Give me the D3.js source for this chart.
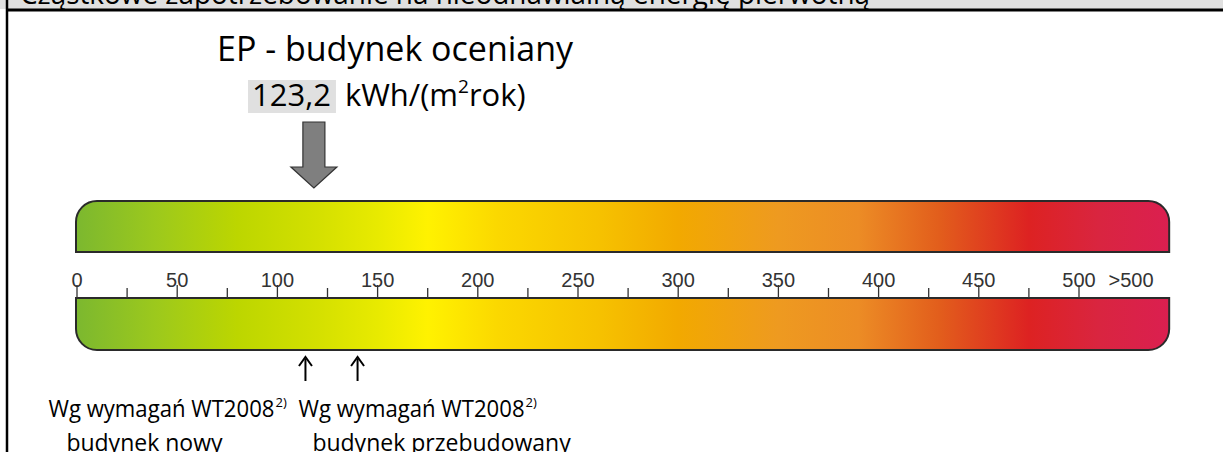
<!DOCTYPE html>
<html>
<head>
<meta charset="utf-8">
<script src="https://cdn.jsdelivr.net/npm/d3@7"></script>
<style>
  body { margin: 0; background: #fff; }
  svg { display: block; }
</style>
</head>
<body>
<div id="chart"></div>
<script>
// dane skali
const tickValues = [0, 50, 100, 150, 200, 250, 300, 350, 400, 450, 500];
const minorTicks = [25, 75, 125, 175, 225, 275, 325, 375, 425, 475];
const overLabel = ">500";
const overLabelValue = 526;
const scaleMax = 545;

const gradValues = [0, 40, 80, 120, 150, 175, 210, 260, 300, 350, 390, 430, 475, 510, 545];
const gradColors = ["#7cb82f", "#9dc91c", "#bcd600", "#d4e000", "#e8ea00", "#fff200", "#fbd800",
  "#f6c200", "#f2a900", "#ee9a20", "#ec8c25", "#e25e1c", "#dd2222", "#d92540", "#db1f50"];

const epValue = 123.2;
const epLabel = "123,2";
const refValues = [114, 140];
const refLines1 = ["Wg wymagań WT2008", "Wg wymagań WT2008"];
const refLines2 = ["budynek nowy", "budynek przebudowany"];

const title = "Cząstkowe zapotrzebowanie na nieodnawialną energię pierwotną";

const W = 1223, H = 452;
const textFont = "'Open Sans', 'Noto Sans', sans-serif";

const svg = d3.select("#chart").append("svg")
  .attr("width", W).attr("height", H);

// x scale
const x = d3.scaleLinear().domain([0, 500]).range([77, 1079]);

// ramka i nagłówek
svg.append("rect").attr("x", 0).attr("y", 0).attr("width", W).attr("height", 9).attr("fill", "#e0e0e0");
svg.append("text").attr("x", 20).attr("y", 4)
  .attr("textLength", 850).attr("lengthAdjust", "spacingAndGlyphs")
  .style("font-family", textFont).style("font-size", "30px").attr("fill", "#000")
  .text(title);
svg.append("line").attr("x1", 6).attr("x2", W).attr("y1", 10).attr("y2", 10)
  .attr("stroke", "#000").attr("stroke-width", 3);
svg.append("line").attr("x1", 7).attr("x2", 7).attr("y1", 0).attr("y2", H)
  .attr("stroke", "#000").attr("stroke-width", 2.5);

// gradient
const defs = svg.append("defs");
const grad = defs.append("linearGradient").attr("id", "scaleGrad")
  .attr("gradientUnits", "userSpaceOnUse")
  .attr("x1", x(0)).attr("x2", x(scaleMax)).attr("y1", 0).attr("y2", 0);
grad.selectAll("stop").data(gradValues).join("stop")
  .attr("offset", d => d / scaleMax)
  .attr("stop-color", (d, i) => gradColors[i]);

const x0 = x(0) - 1, x1 = x(scaleMax);
const r = 21;
const upTop = 201, upBot = 252, axisY = 298, lowBot = 350;

// górny pasek (zaokrąglone górne rogi)
const up = d3.path();
up.moveTo(x0, upBot);
up.lineTo(x0, upTop + r);
up.arcTo(x0, upTop, x0 + r, upTop, r);
up.lineTo(x1 - r, upTop);
up.arcTo(x1, upTop, x1, upTop + r, r);
up.lineTo(x1, upBot);
up.closePath();
svg.append("path").attr("d", up.toString())
  .attr("fill", "url(#scaleGrad)").attr("stroke", "#2a2a2a").attr("stroke-width", 2);

// dolny pasek (zaokrąglone dolne rogi)
const lo = d3.path();
lo.moveTo(x0, axisY);
lo.lineTo(x1, axisY);
lo.lineTo(x1, lowBot - r);
lo.arcTo(x1, lowBot, x1 - r, lowBot, r);
lo.lineTo(x0 + r, lowBot);
lo.arcTo(x0, lowBot, x0, lowBot - r, r);
lo.closePath();
svg.append("path").attr("d", lo.toString())
  .attr("fill", "url(#scaleGrad)").attr("stroke", "#2a2a2a").attr("stroke-width", 2);

// oś
const axisFont = "'Liberation Sans', Arial, sans-serif";
svg.selectAll(".tick-major").data(tickValues).join("line")
  .attr("x1", d => x(d)).attr("x2", d => x(d))
  .attr("y1", axisY).attr("y2", axisY - 13)
  .attr("stroke", "#333").attr("stroke-width", 1.3);
svg.selectAll(".tick-minor").data(minorTicks).join("line")
  .attr("x1", d => x(d)).attr("x2", d => x(d))
  .attr("y1", axisY).attr("y2", axisY - 10)
  .attr("stroke", "#333").attr("stroke-width", 1.3);
svg.selectAll(".tick-label").data(tickValues).join("text")
  .attr("x", d => x(d)).attr("y", axisY - 11)
  .attr("text-anchor", "middle")
  .style("font-family", axisFont).style("font-size", "20px").attr("fill", "#333")
  .text(d => d);
svg.append("text").attr("x", x(overLabelValue)).attr("y", axisY - 11)
  .attr("text-anchor", "middle")
  .style("font-family", axisFont).style("font-size", "20px").attr("fill", "#333")
  .text(overLabel);

// EP - budynek oceniany
const epX = x(epValue) - 10;
svg.append("text").attr("x", 217).attr("y", 61)
  .style("font-family", textFont).style("font-size", "34px").attr("fill", "#000")
  .text("EP - budynek oceniany");
const epBox = svg.append("rect").attr("x", 248).attr("y", 80).attr("height", 33).attr("fill", "#e0e0e0");
const epText = svg.append("text").attr("x", 252).attr("y", 106)
  .style("font-family", textFont).style("font-size", "31px").attr("fill", "#000")
  .text(epLabel);
const epLen = epText.node().getComputedTextLength();
epBox.attr("width", epLen + 9);
const unit = svg.append("text").attr("x", 252 + epLen + 14).attr("y", 106)
  .style("font-family", textFont).style("font-size", "31px").attr("fill", "#000");
unit.append("tspan").text("kWh/(m");
unit.append("tspan").attr("dy", -13).style("font-size", "19px").text("2");
unit.append("tspan").attr("dy", 13).text("rok)");

// strzałka w dół
const arr = d3.path();
arr.moveTo(epX - 11, 122);
arr.lineTo(epX + 11, 122);
arr.lineTo(epX + 11, 167);
arr.lineTo(epX + 23, 167);
arr.lineTo(epX, 188);
arr.lineTo(epX - 23, 167);
arr.lineTo(epX - 11, 167);
arr.closePath();
svg.append("path").attr("d", arr.toString())
  .attr("fill", "#7f7f7f").attr("stroke", "#333").attr("stroke-width", 1.2);

// strzałki wymagań
const refG = svg.selectAll(".ref").data(refValues).join("g")
  .attr("transform", d => `translate(${x(d)},0)`);
refG.append("line").attr("x1", 0).attr("x2", 0).attr("y1", 359).attr("y2", 381)
  .attr("stroke", "#000").attr("stroke-width", 2);
refG.append("path").attr("d", "M-6.5,366 L0,357 L6.5,366").attr("fill", "none")
  .attr("stroke", "#000").attr("stroke-width", 2);

// podpisy strzałek
const line1Offsets = [-257, -59];
const line2Centers = [-161, 84];
refValues.forEach((v, i) => {
  const t = svg.append("text").attr("x", x(v) + line1Offsets[i]).attr("y", 417)
    .style("font-family", textFont).style("font-size", "23px").attr("fill", "#000");
  t.append("tspan").attr("textLength", 226).attr("lengthAdjust", "spacingAndGlyphs")
    .text(refLines1[i]);
  t.append("tspan").attr("dx", 1).attr("dy", -10).style("font-size", "13px").text("2)");
  svg.append("text").attr("x", x(v) + line2Centers[i]).attr("y", 451)
    .attr("text-anchor", "middle")
    .style("font-family", textFont).style("font-size", "23px").attr("fill", "#000")
    .text(refLines2[i]);
});
</script>
</body>
</html>
